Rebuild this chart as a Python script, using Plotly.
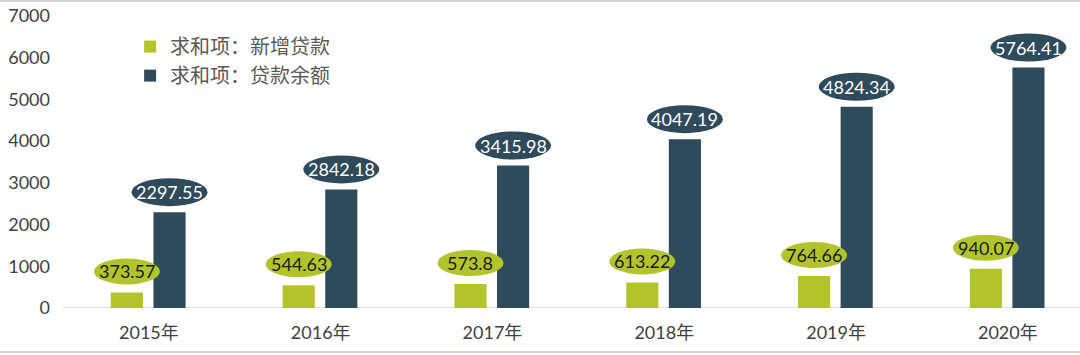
import plotly.graph_objects as go

categories = ["2015年", "2016年", "2017年", "2018年", "2019年", "2020年"]
new_loans = [373.57, 544.63, 573.8, 613.22, 764.66, 940.07]
loan_balance = [2297.55, 2842.18, 3415.98, 4047.19, 4824.34, 5764.41]
new_labels = ["373.57", "544.63", "573.8", "613.22", "764.66", "940.07"]
bal_labels = ["2297.55", "2842.18", "3415.98", "4047.19", "4824.34", "5764.41"]
series_names = ["求和项：新增贷款", "求和项：贷款余额"]
y_ticks = [0, 1000, 2000, 3000, 4000, 5000, 6000, 7000]

GREEN = "#b2c42b"
DARK = "#2f4a5a"
NUM_FONT = "Lato, 'Open Sans', sans-serif"
CJK_FONT = "Lato, 'Noto Sans CJK SC', sans-serif"

BAR_W = 0.187
OFF_G = -0.128
OFF_D = 0.12

fig = go.Figure()
fig.add_trace(go.Bar(x=categories, y=new_loans, name=series_names[0],
                     marker=dict(color=GREEN, line=dict(width=0)),
                     width=BAR_W, offset=OFF_G - BAR_W / 2))
fig.add_trace(go.Bar(x=categories, y=loan_balance, name=series_names[1],
                     marker=dict(color=DARK, line=dict(width=0)),
                     width=BAR_W, offset=OFF_D - BAR_W / 2))

shapes = []
annotations = []
for i, (v, lab) in enumerate(zip(new_loans, new_labels)):
    xc = i + OFF_G
    shapes.append(dict(type="circle", xref="x", yref="y", xsizemode="pixel", ysizemode="pixel",
                       xanchor=xc, yanchor=v, x0=-33, x1=33, y0=8, y1=34,
                       fillcolor=GREEN, line=dict(width=0), layer="above"))
    annotations.append(dict(x=xc, y=v, xref="x", yref="y", text=lab, showarrow=False,
                            yshift=21, font=dict(family=NUM_FONT, size=18, color="#1a1a1a")))
for i, (v, lab) in enumerate(zip(loan_balance, bal_labels)):
    xc = i + OFF_D
    shapes.append(dict(type="circle", xref="x", yref="y", xsizemode="pixel", ysizemode="pixel",
                       xanchor=xc, yanchor=v, x0=-38, x1=38, y0=6, y1=34,
                       fillcolor=DARK, line=dict(width=0), layer="above"))
    annotations.append(dict(x=xc, y=v, xref="x", yref="y", text=lab, showarrow=False,
                            yshift=20, font=dict(family=NUM_FONT, size=18, color="#ffffff")))

# zero baseline
shapes.append(dict(type="line", xref="paper", yref="y", x0=0, x1=1, y0=0, y1=0,
                   line=dict(color="#d9d9d9", width=1.5), layer="below"))
# image frame lines
shapes.append(dict(type="line", xref="paper", yref="paper", x0=-0.07, x1=1.01, y0=1.051, y1=1.051,
                   line=dict(color="#d4d4d4", width=2)))
shapes.append(dict(type="line", xref="paper", yref="paper", x0=-0.07, x1=1.01, y0=-0.151, y1=-0.151,
                   line=dict(color="#d4d4d4", width=2)))

fig.update_layout(
    width=1080, height=355,
    margin=dict(l=63, r=0, t=16, b=47),
    paper_bgcolor="white", plot_bgcolor="white",
    barmode="overlay",
    showlegend=True,
    legend=dict(x=0.066, y=0.962, xanchor="left", yanchor="top",
                font=dict(family="'Noto Sans CJK SC', sans-serif", size=20, color="#595959"),
                bgcolor="rgba(0,0,0,0)", tracegroupgap=0, itemwidth=30),
    shapes=shapes,
    annotations=annotations,
    xaxis=dict(type="category", range=[-0.5, 5.42], showgrid=False, showline=False,
               zeroline=False, ticks="", ticklabelstandoff=12,
               tickfont=dict(family=CJK_FONT, size=18, color="#404040")),
    yaxis=dict(range=[0, 7000], tickvals=y_ticks, showgrid=False, showline=False,
               zeroline=False, ticks="", ticklabelstandoff=12,
               tickfont=dict(family=NUM_FONT, size=18, color="#404040")),
)

fig.write_html("out.html")
